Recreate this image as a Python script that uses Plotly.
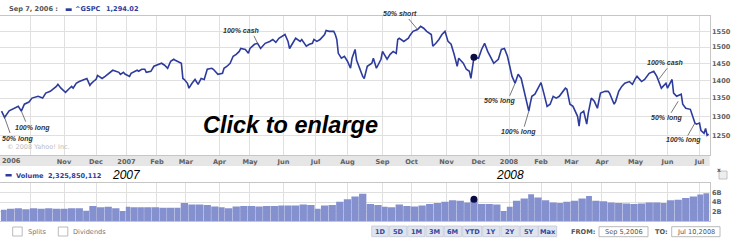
import numpy as np
import pandas as pd
import plotly.graph_objects as go

W, H = 734, 242

# ---------------- data ----------------
holidays = ["2006-11-23", "2006-12-25", "2007-01-01", "2007-01-02", "2007-01-15",
            "2007-02-19", "2007-04-06", "2007-05-28", "2007-07-04", "2007-09-03",
            "2007-11-22", "2007-12-25", "2008-01-01", "2008-01-21", "2008-02-18",
            "2008-03-21", "2008-05-26", "2008-07-04"]

price_dates = [
    "2006-09-05", "2006-09-07", "2006-09-12", "2006-09-15", "2006-09-20", "2006-09-22", "2006-09-26", "2006-09-29",
    "2006-10-03", "2006-10-09", "2006-10-12", "2006-10-16", "2006-10-19", "2006-10-25", "2006-10-26", "2006-10-30",
    "2006-11-02", "2006-11-06", "2006-11-08", "2006-11-09", "2006-11-13", "2006-11-15", "2006-11-20", "2006-11-22",
    "2006-11-27", "2006-11-28", "2006-11-30", "2006-12-01", "2006-12-04", "2006-12-07", "2006-12-11", "2006-12-14",
    "2006-12-18", "2006-12-22", "2006-12-26", "2006-12-28", "2006-12-29",
    "2007-01-05", "2007-01-08", "2007-01-12", "2007-01-16", "2007-01-18", "2007-01-22", "2007-01-23", "2007-01-26",
    "2007-01-30", "2007-02-02", "2007-02-06", "2007-02-08", "2007-02-12", "2007-02-14", "2007-02-16", "2007-02-20",
    "2007-02-23", "2007-02-26", "2007-02-27", "2007-02-28", "2007-03-02", "2007-03-05", "2007-03-07", "2007-03-09",
    "2007-03-13", "2007-03-15", "2007-03-19", "2007-03-21", "2007-03-26", "2007-03-27", "2007-03-30", "2007-04-04",
    "2007-04-05", "2007-04-10", "2007-04-12", "2007-04-16", "2007-04-18", "2007-04-20", "2007-04-23", "2007-04-26",
    "2007-04-30", "2007-05-01", "2007-05-04", "2007-05-08", "2007-05-10", "2007-05-14", "2007-05-15", "2007-05-18",
    "2007-05-22", "2007-05-24", "2007-05-29", "2007-06-04", "2007-06-06", "2007-06-07", "2007-06-11", "2007-06-13",
    "2007-06-18", "2007-06-19", "2007-06-22", "2007-06-26", "2007-06-28", "2007-06-29", "2007-07-03", "2007-07-06",
    "2007-07-11", "2007-07-12", "2007-07-16", "2007-07-19", "2007-07-20", "2007-07-23", "2007-07-24", "2007-07-26",
    "2007-07-30", "2007-08-01", "2007-08-03", "2007-08-06", "2007-08-08", "2007-08-09", "2007-08-15", "2007-08-16",
    "2007-08-20", "2007-08-23", "2007-08-24", "2007-08-27", "2007-08-28", "2007-08-31", "2007-09-04", "2007-09-07",
    "2007-09-11", "2007-09-13", "2007-09-17", "2007-09-18", "2007-09-19", "2007-09-24", "2007-09-27", "2007-09-28",
    "2007-10-02", "2007-10-05", "2007-10-09", "2007-10-11", "2007-10-15", "2007-10-18", "2007-10-19", "2007-10-23",
    "2007-10-25", "2007-10-29", "2007-10-31", "2007-11-02", "2007-11-06", "2007-11-08", "2007-11-12", "2007-11-13",
    "2007-11-16", "2007-11-20", "2007-11-23", "2007-11-26", "2007-11-27", "2007-11-28", "2007-12-03", "2007-12-05",
    "2007-12-07", "2007-12-11", "2007-12-17", "2007-12-20", "2007-12-24", "2007-12-27", "2007-12-31",
    "2008-01-02", "2008-01-04", "2008-01-08", "2008-01-10", "2008-01-14", "2008-01-16", "2008-01-18", "2008-01-22",
    "2008-01-23", "2008-01-24", "2008-01-28", "2008-01-31", "2008-02-01", "2008-02-05", "2008-02-07", "2008-02-11",
    "2008-02-13", "2008-02-15", "2008-02-20", "2008-02-26", "2008-02-27", "2008-02-29", "2008-03-04", "2008-03-07",
    "2008-03-10", "2008-03-11", "2008-03-13", "2008-03-17", "2008-03-18", "2008-03-20", "2008-03-25", "2008-03-27",
    "2008-03-31", "2008-04-03", "2008-04-07", "2008-04-08", "2008-04-11", "2008-04-14", "2008-04-16", "2008-04-18",
    "2008-04-22", "2008-04-25", "2008-04-29", "2008-05-01", "2008-05-02", "2008-05-07", "2008-05-09", "2008-05-14",
    "2008-05-19", "2008-05-21", "2008-05-23", "2008-05-27", "2008-05-30", "2008-06-02", "2008-06-05", "2008-06-06",
    "2008-06-10", "2008-06-13", "2008-06-16", "2008-06-18", "2008-06-23", "2008-06-26", "2008-06-27", "2008-07-01",
    "2008-07-02", "2008-07-07", "2008-07-08", "2008-07-09", "2008-07-10"]

price_values = [
    1314, 1297, 1315, 1320, 1327, 1314, 1333, 1339,
    1350, 1355, 1350, 1364, 1369, 1383, 1389, 1378,
    1366, 1375, 1383, 1378, 1392, 1397, 1403, 1406,
    1386, 1392, 1400, 1403, 1415, 1406, 1412, 1424,
    1430, 1424, 1418, 1424, 1419,
    1412, 1421, 1430, 1427, 1433, 1433, 1424, 1427,
    1442, 1448, 1451, 1445, 1436, 1457, 1463, 1460,
    1454, 1451, 1406, 1403, 1392, 1378, 1392, 1403,
    1389, 1406, 1403, 1433, 1436, 1433, 1418, 1421,
    1436, 1442, 1451, 1472, 1478, 1487, 1496, 1493,
    1481, 1496, 1509, 1512, 1496, 1506, 1512, 1518,
    1524, 1515, 1528, 1540, 1518, 1496, 1512, 1528,
    1518, 1524, 1503, 1509, 1512, 1524, 1518, 1524,
    1540, 1553, 1550, 1550, 1540, 1524, 1481, 1466,
    1472, 1457, 1436, 1466, 1493, 1460, 1412, 1406,
    1442, 1451, 1466, 1451, 1436, 1463, 1487, 1463,
    1478, 1487, 1481, 1524, 1528, 1518, 1528, 1537,
    1550, 1556, 1566, 1560, 1550, 1540, 1503, 1512,
    1524, 1540, 1550, 1518, 1509, 1478, 1442, 1466,
    1451, 1433, 1427, 1406, 1440, 1469, 1466, 1493,
    1512, 1487, 1451, 1463, 1493, 1496, 1472,
    1448, 1412, 1392, 1418, 1406, 1369, 1336, 1314,
    1336, 1355, 1361, 1389, 1394, 1361, 1327, 1333,
    1355, 1350, 1355, 1378, 1375, 1333, 1327, 1300,
    1274, 1308, 1314, 1279, 1308, 1350, 1341, 1322,
    1364, 1369, 1369, 1364, 1333, 1341, 1369, 1383,
    1392, 1397, 1389, 1406, 1412, 1397, 1403, 1421,
    1427, 1412, 1392, 1378, 1392, 1378, 1403, 1364,
    1355, 1361, 1333, 1322, 1319, 1282, 1279, 1282,
    1262, 1255, 1268, 1250, 1253]

# weekly volume, billions of shares (one value per trading week, Sep 2006 .. Jul 2008)
volume_weekly_bn = [
    2.4, 2.6, 2.7, 2.5,
    2.7, 2.6, 2.7, 2.6,
    2.6, 2.7, 2.7, 2.2, 3.2,
    2.9, 3.0, 2.7, 2.1,
    3.0, 2.9, 2.9, 2.9, 2.9,
    2.8, 2.8, 2.8, 3.8,
    3.5, 3.5, 3.4, 3.1,
    2.9, 2.7, 3.1, 3.2,
    3.2, 3.1, 3.2, 3.2, 3.3,
    3.3, 3.3, 3.5, 3.4,
    2.6, 3.3, 3.4, 4.1,
    4.6, 5.2, 5.8, 3.6, 3.4,
    3.0, 2.9, 3.5, 3.2,
    3.1, 3.3, 3.6, 3.8, 4.1,
    4.4, 4.3, 3.9, 4.4,
    3.6, 3.6, 3.5, 2.1,
    3.0, 4.3, 4.8, 5.7, 5.0,
    4.4, 3.9, 3.8, 4.1,
    4.3, 4.8, 5.3, 4.3,
    4.2, 3.9, 3.8, 3.7, 3.6,
    3.7, 3.9, 3.9, 3.8,
    4.4, 4.5, 4.9, 5.2,
    5.6, 5.9]

month_tick_dates = ["2006-10-02", "2006-11-01", "2006-12-01", "2007-01-03", "2007-02-01", "2007-03-01",
                    "2007-04-02", "2007-05-01", "2007-06-01", "2007-07-02", "2007-08-01", "2007-09-04",
                    "2007-10-01", "2007-11-01", "2007-12-03", "2008-01-02", "2008-02-01", "2008-03-03",
                    "2008-04-01", "2008-05-01", "2008-06-02", "2008-07-01"]
month_tick_labels = ["", "Nov", "Dec", "2007", "Feb", "Mar", "Apr", "May", "Jun", "Jul", "Aug", "Sep",
                     "Oct", "Nov", "Dec", "2008", "Feb", "Mar", "Apr", "May", "Jun", "Jul"]

price_ticks = [1250, 1300, 1350, 1400, 1450, 1500, 1550]
volume_ticks = [2e9, 4e9, 6e9]
volume_tick_labels = ["2B", "4B", "6B"]

# signal annotations: text, anchor date, anchor price
signal_text = ["50% long", "100% long", "100% cash", "50% short", "50% long",
               "100% long", "100% cash", "50% long", "100% long"]
signal_date = ["2006-09-07", "2006-09-22", "2007-05-08", "2007-10-05", "2008-01-08",
               "2008-01-22", "2008-05-22", "2008-06-11", "2008-06-26"]
signal_price = [1297, 1314, 1512, 1556, 1392, 1314, 1402, 1341, 1282]
# layout offsets in screen pixels (text centre, leader end)
signal_text_off = [(13, 21.6), (11, 17), (-17, -12.7), (-17.5, -16.3), (-15.5, 18),
                   (-10.7, 20.7), (7, -17), (-12, 17), (-11, 17)]
signal_line_off = [(6, 17), (5, 12), (-4.3, -9), (-10, -12), (-6, 14),
                   (-5, 17), (10, -13), (-8, 13), (-8, 14)]

hover_date = "2007-11-28"
hover_price = 1469
hover_volume = 4.6e9

# ---------------- trading-session scale ----------------
sessions = pd.bdate_range("2006-09-05", "2008-07-10")
sessions = sessions[~sessions.isin(pd.to_datetime(holidays))]


def sess(dates):
    return sessions.searchsorted(pd.to_datetime(dates)).astype(float)


px_x = sess(price_dates)
tick_x = sess(month_tick_dates)

wk = pd.factorize(sessions.to_period("W-FRI"))[0]
ser = pd.Series(np.arange(len(sessions)))
wfirst = ser.groupby(wk).min().values
wlast = ser.groupby(wk).max().values
nweeks = min(len(wfirst), len(volume_weekly_bn))
vol_x = (wfirst[:nweeks] + wlast[:nweeks]) / 2.0
vol_w = (wlast[:nweeks] - wfirst[:nweeks] + 1) * 0.96
vol_y = np.array(volume_weekly_bn[:nweeks]) * 1e9


def X(p):
    return p / W


def Y(p):
    return 1 - p / H


PLOT_R = 709.7
LINE = "#2d3c9c"
GRID = "#e0e0e0"
FRAME = "#c6c6c6"
LBL = "#606060"
BOLD = dict(family="DejaVu Sans", size=6.6, color=LBL, weight="bold")

fig = go.Figure()

fig.add_trace(go.Scatter(x=px_x, y=price_values, mode="lines",
                         line=dict(color=LINE, width=1.6), xaxis="x", yaxis="y",
                         hoverinfo="skip", showlegend=False))
fig.add_trace(go.Scatter(x=sess([hover_date]), y=[hover_price], mode="markers",
                         marker=dict(color="#0b0b45", size=7), xaxis="x", yaxis="y",
                         showlegend=False))
fig.add_trace(go.Bar(x=vol_x, y=vol_y, width=vol_w, marker=dict(color="#8590cf", line=dict(width=0)),
                     xaxis="x2", yaxis="y2", showlegend=False, hoverinfo="skip"))
fig.add_trace(go.Scatter(x=sess([hover_date]), y=[hover_volume], mode="markers",
                         marker=dict(color="#0b0b45", size=7), xaxis="x2", yaxis="y2",
                         showlegend=False))

xr = [-1, len(sessions) - 0.3]
common_x = dict(range=xr, tickmode="array", tickvals=tick_x, showgrid=True, gridcolor=GRID,
                gridwidth=1, zeroline=False, showline=True, linecolor=FRAME, mirror=True,
                ticks="", domain=[0, X(PLOT_R)])

fig.update_layout(
    width=W, height=H, margin=dict(l=0, r=0, t=0, b=0),
    paper_bgcolor="white", plot_bgcolor="white",
    xaxis=dict(common_x, ticktext=month_tick_labels, tickfont=BOLD, anchor="y"),
    xaxis2=dict(common_x, showticklabels=False, anchor="y2"),
    yaxis=dict(type="log", range=[np.log10(1200), np.log10(1600)], domain=[Y(155), Y(16)],
               side="right", tickmode="array", tickvals=price_ticks,
               ticktext=[str(v) for v in price_ticks], tickfont=BOLD, showgrid=True,
               gridcolor=GRID, showline=True, linecolor=FRAME, mirror=True, ticks="",
               zeroline=False, anchor="x"),
    yaxis2=dict(range=[0, 8e9], domain=[Y(221), Y(183.3)], side="right", tickmode="array",
                tickvals=volume_ticks, ticktext=volume_tick_labels, tickfont=BOLD,
                showgrid=True, gridcolor=GRID, showline=True, linecolor=FRAME, mirror=True,
                ticks="", zeroline=False, anchor="x2"),
)

shapes = []
annotations = []

# gray date band under the price panel
shapes.append(dict(type="rect", xref="paper", yref="paper", x0=0, x1=X(PLOT_R), y0=Y(166), y1=Y(155),
                   fillcolor="#e6e6e6", line=dict(width=0), layer="below"))

# copyright note inside the price panel (bottom-left), anchored to the panel's lower edge
annotations.append(dict(x=0, y=0, xref="x domain", yref="y domain", xshift=5, yshift=2,
                        text="\u00a9 2008 Yahoo! Inc.", showarrow=False,
                        xanchor="left", yanchor="bottom",
                        font=dict(family="DejaVu Sans", size=6.5, color="#bdbdbd")))

# signal labels with leader lines
for t, d, p, (tx, ty), (lx, ly) in zip(signal_text, signal_date, signal_price, signal_text_off, signal_line_off):
    xd = float(sess([d])[0])
    yd = float(np.log10(p))
    annotations.append(dict(x=xd, y=yd, xref="x", yref="y", ax=lx, ay=ly, text="", showarrow=True,
                            arrowhead=0, arrowwidth=0.8, arrowcolor="#555555"))
    annotations.append(dict(x=xd, y=yd, xref="x", yref="y", xshift=tx, yshift=-ty, text=t,
                            showarrow=False, xanchor="center", yanchor="middle",
                            font=dict(family="Liberation Sans", size=7, color="#333333",
                                      weight="bold", style="italic")))

# 2006 label at the left of the date band
annotations.append(dict(x=X(12), y=Y(161), xref="paper", yref="paper", text="2006", showarrow=False,
                        xanchor="center", yanchor="middle", font=BOLD))

# big overlay text
annotations.append(dict(x=X(290.5), y=Y(125), xref="paper", yref="paper", text="Click to enlarge",
                        showarrow=False, xanchor="center", yanchor="middle",
                        font=dict(family="Liberation Sans", size=23.5, color="black",
                                  weight="bold", style="italic")))

# header
annotations.append(dict(x=X(6.5), y=Y(9), xref="paper", yref="paper", text="Sep 7, 2006 :",
                        showarrow=False, xanchor="left", yanchor="middle",
                        font=dict(family="DejaVu Sans", size=6.6, color="#555555", weight="bold")))
shapes.append(dict(type="rect", xref="paper", yref="paper", x0=X(65.7), x1=X(71.7), y0=Y(11), y1=Y(8.3),
                   fillcolor=LINE, line=dict(width=0)))
annotations.append(dict(x=X(73), y=Y(9), xref="paper", yref="paper", text="^GSPC",
                        showarrow=False, xanchor="left", yanchor="middle",
                        font=dict(family="DejaVu Sans", size=6.6, color=LINE, weight="bold")))
annotations.append(dict(x=X(104), y=Y(9), xref="paper", yref="paper", text="1,294.02",
                        showarrow=False, xanchor="left", yanchor="middle",
                        font=dict(family="DejaVu Sans", size=6.6, color=LINE, weight="bold")))

# volume header
shapes.append(dict(type="rect", xref="paper", yref="paper", x0=X(5.5), x1=X(11.7), y0=Y(176.5), y1=Y(174),
                   fillcolor=LINE, line=dict(width=0)))
annotations.append(dict(x=X(13.5), y=Y(175.5), xref="paper", yref="paper", text="Volume",
                        showarrow=False, xanchor="left", yanchor="middle",
                        font=dict(family="DejaVu Sans", size=6.6, color=LINE, weight="bold")))
annotations.append(dict(x=X(45.5), y=Y(175.5), xref="paper", yref="paper", text="2,325,850,112",
                        showarrow=False, xanchor="left", yanchor="middle",
                        font=dict(family="DejaVu Sans", size=6.6, color=LINE, weight="bold")))
for yr, cx in (("2007", 126.5), ("2008", 510)):
    annotations.append(dict(x=X(cx), y=Y(175), xref="paper", yref="paper", text=yr,
                            showarrow=False, xanchor="center", yanchor="middle",
                            font=dict(family="Liberation Sans", size=12, color="black", style="italic")))

# close box
shapes.append(dict(type="rect", xref="paper", yref="paper", x0=X(719), x1=X(727), y0=Y(179), y1=Y(171),
                   fillcolor="#eeeeee", line=dict(color="#b5b5b5", width=0.8)))
annotations.append(dict(x=X(723), y=Y(175), xref="paper", yref="paper", text="x", showarrow=False,
                        font=dict(family="DejaVu Sans", size=6, color="#555555", weight="bold")))

# bottom controls
for x0 in (12.7, 58.3):
    shapes.append(dict(type="rect", xref="paper", yref="paper", x0=X(x0), x1=X(x0 + 9.5), y0=Y(236), y1=Y(227),
                       fillcolor="white", line=dict(color="#aaaaaa", width=0.8)))
for txt, x0 in (("Splits", 26), ("Dividends", 70.7)):
    annotations.append(dict(x=X(x0), y=Y(232), xref="paper", yref="paper", text=txt, showarrow=False,
                            xanchor="left", yanchor="middle",
                            font=dict(family="DejaVu Sans", size=6.6, color="#777777")))

buttons = [("1D", 371.7, 388.3), ("5D", 389.3, 406.7), ("1M", 407.7, 425), ("3M", 426, 443.3),
           ("6M", 444.3, 461.7), ("YTD", 462.7, 481.7), ("1Y", 482.7, 500), ("2Y", 501, 519.3),
           ("5Y", 520.3, 538.3), ("Max", 538.3, 556.7)]
for txt, a, b in buttons:
    shapes.append(dict(type="rect", xref="paper", yref="paper", x0=X(a), x1=X(b), y0=Y(236.7), y1=Y(226),
                       fillcolor="#dfe4ee", line=dict(color="#c3c9d6", width=0.8)))
    annotations.append(dict(x=X((a + b) / 2), y=Y(231.5), xref="paper", yref="paper", text=txt,
                            showarrow=False, xanchor="center", yanchor="middle",
                            font=dict(family="DejaVu Sans", size=6.6, color="#3346a0", weight="bold")))

annotations.append(dict(x=X(569), y=Y(231.5), xref="paper", yref="paper", text="FROM:", showarrow=False,
                        xanchor="left", yanchor="middle",
                        font=dict(family="DejaVu Sans", size=6.6, color="#555555", weight="bold")))
annotations.append(dict(x=X(653), y=Y(231.5), xref="paper", yref="paper", text="TO:", showarrow=False,
                        xanchor="left", yanchor="middle",
                        font=dict(family="DejaVu Sans", size=6.6, color="#555555", weight="bold")))
for txt, a, b in (("Sep 5,2006", 599, 648), ("Jul 10,2008", 671.7, 720)):
    shapes.append(dict(type="rect", xref="paper", yref="paper", x0=X(a), x1=X(b), y0=Y(236.7), y1=Y(226.7),
                       fillcolor="white", line=dict(color="#a8a8a8", width=0.8)))
    annotations.append(dict(x=X((a + b) / 2), y=Y(231.7), xref="paper", yref="paper", text=txt,
                            showarrow=False, xanchor="center", yanchor="middle",
                            font=dict(family="DejaVu Sans", size=6.6, color="#555555")))

fig.update_layout(shapes=shapes, annotations=annotations)
fig.write_html("out.html")
